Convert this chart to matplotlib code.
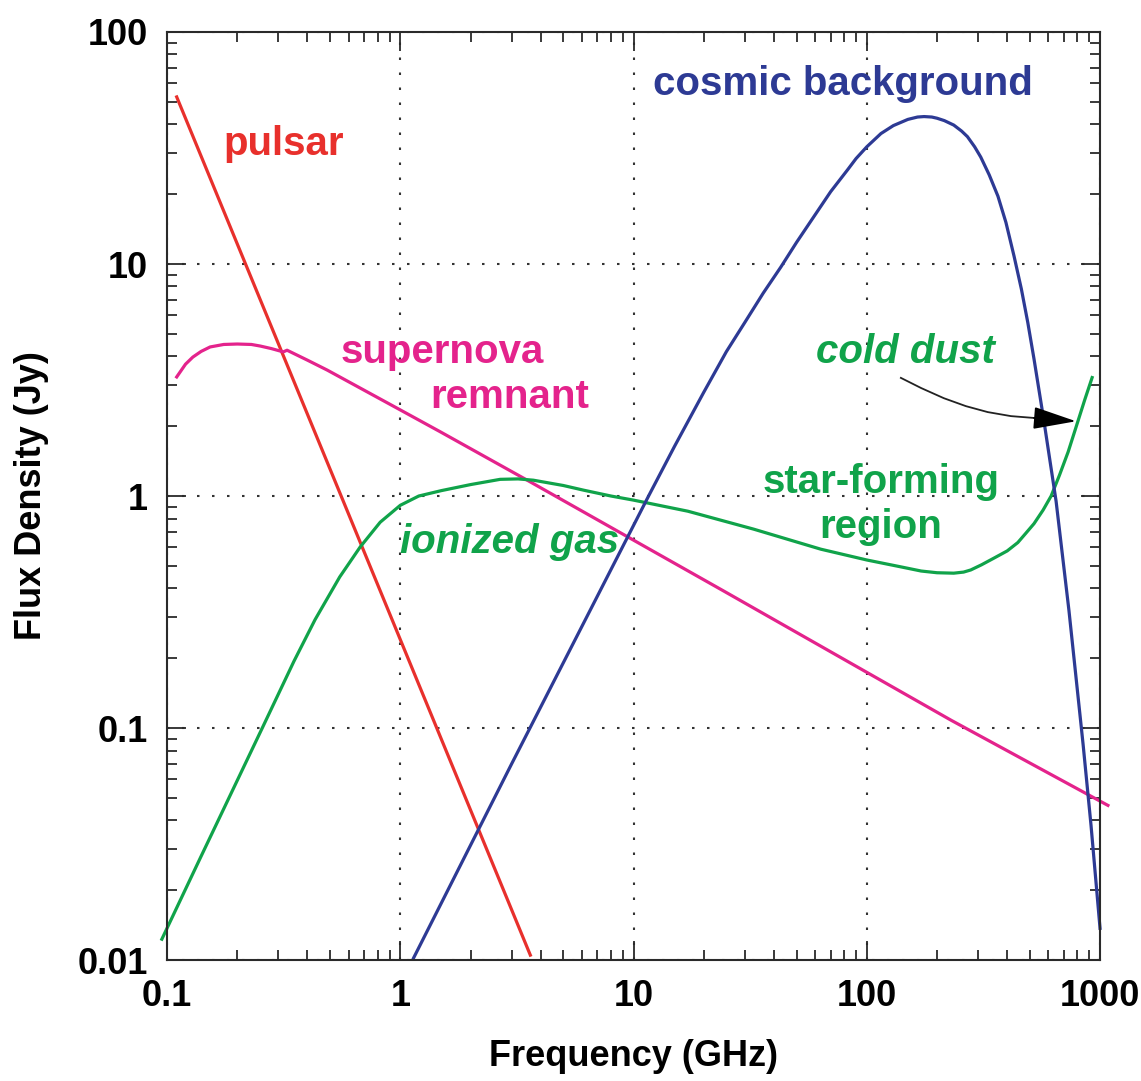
#!/usr/bin/env python
# -*- coding: utf-8 -*-

"""
電波源のスペクトル比較図
各天体の周波数 (GHz) と フラックス密度 (Jy) を両対数で描画し、out.png に保存します。
"""

import matplotlib
matplotlib.use('Agg')
import matplotlib.pyplot as plt
from matplotlib.ticker import LogLocator, NullFormatter

# ----- データ -----
# パルサー
pulsar_freq = [0.110, 3.61]
pulsar_flux = [52.5, 0.0105]

# 超新星残骸
snr_freq = [0.110, 0.12, 0.129, 0.14, 0.153, 0.175, 0.20, 0.23, 0.251, 0.28,
            0.315, 0.327, 0.40, 0.486, 1.0, 1.486, 3.61, 24.3, 230, 1081]
snr_flux = [3.26, 3.70, 3.97, 4.20, 4.39, 4.50, 4.52, 4.50, 4.43, 4.32,
            4.18, 4.25, 3.85, 3.49, 2.35, 1.89, 1.15, 0.39, 0.108, 0.0464]

# 星形成領域 (電離ガス + 低温ダスト)
sfr_freq = [0.095, 0.139, 0.256, 0.35, 0.431, 0.55, 0.673, 0.82, 1.0, 1.2,
            1.5, 2.0, 2.68, 3.2, 3.72, 5.0, 6.1, 8.0, 10, 17.1,
            32.7, 63.5, 100, 140, 171, 200, 236, 260, 279, 310,
            351, 400, 444, 480, 521, 570, 617, 670, 730, 789,
            860, 925]
sfr_flux = [0.0123, 0.0276, 0.10, 0.194, 0.293, 0.448, 0.603, 0.771, 0.912, 1.0,
            1.055, 1.12, 1.18, 1.185, 1.17, 1.11, 1.06, 1.0, 0.96, 0.86,
            0.72, 0.59, 0.53, 0.495, 0.475, 0.467, 0.465, 0.47, 0.48, 0.505,
            0.54, 0.58, 0.63, 0.69, 0.76, 0.87, 1.0, 1.23, 1.55, 1.98,
            2.6, 3.24]

# 宇宙背景放射
cmb_freq = [1.14, 3.0, 11.6, 15, 20, 25, 30, 36, 42.8, 50,
            59.3, 70, 82.8, 90, 100, 115, 130, 150, 165, 176,
            190, 200, 215, 236, 255, 270, 290, 308, 335, 365,
            395, 428, 460, 490, 521, 575, 648, 736, 846, 915,
            1000]
cmb_flux = [0.0102, 0.070, 1.0, 1.64, 2.8, 4.19, 5.6, 7.5, 9.7, 12.4,
            16.0, 20.5, 25.5, 28.5, 32, 36.5, 39.5, 42, 43, 43.2,
            43, 42.5, 41.5, 39.7, 37.4, 35.4, 32, 28.9, 24.2, 19.6,
            15.1, 10.8, 7.8, 5.6, 3.9, 2.1, 0.95, 0.32, 0.085, 0.038,
            0.0137]

# 「cold dust」の矢印
arrow_freq = [140, 171, 214, 266, 330, 415, 521]
arrow_flux = [3.23, 2.92, 2.64, 2.44, 2.30, 2.21, 2.17]
arrow_tip = (789, 2.1)

# 目盛り
xtick_values = [0.1, 1, 10, 100, 1000]
xtick_labels = ['0.1', '1', '10', '100', '1000']
ytick_values = [0.01, 0.1, 1, 10, 100]
ytick_labels = ['0.01', '0.1', '1', '10', '100']

# 色
RED = '#e8302c'
PINK = '#e4238c'
GREEN = '#10a34a'
NAVY = '#2d3a94'


def main():
    """メイン関数"""
    plt.rcParams['font.family'] = ['Liberation Sans', 'DejaVu Sans']
    plt.rcParams['font.weight'] = 'bold'

    fig = plt.figure(figsize=(11.41, 10.81), dpi=100)
    ax = fig.add_axes([0.1464, 0.1119, 0.8177, 0.8585])
    ax.set_xscale('log')
    ax.set_yscale('log')
    ax.set_xlim(0.1, 1000)
    ax.set_ylim(0.01, 100)

    # 曲線
    lw = 2.3
    ax.plot(pulsar_freq, pulsar_flux, color=RED, lw=lw, clip_on=False)
    ax.plot(snr_freq, snr_flux, color=PINK, lw=lw, clip_on=False)
    ax.plot(sfr_freq, sfr_flux, color=GREEN, lw=lw, clip_on=False)
    ax.plot(cmb_freq, cmb_flux, color=NAVY, lw=lw, clip_on=False)

    # 矢印
    ax.plot(arrow_freq, arrow_flux, color='#222222', lw=1.3)
    ax.annotate('', xy=arrow_tip, xytext=(arrow_freq[-1], arrow_flux[-1]),
                arrowprops=dict(arrowstyle='-|>,head_length=2.7,head_width=0.7',
                                color='black', lw=1.3, shrinkA=0, shrinkB=0))

    # ラベル
    fs = 29
    ax.text(0.174, 29.5, 'pulsar', color=RED, fontsize=fs, ha='left', va='baseline')
    ax.text(0.553, 3.74, 'supernova', color=PINK, fontsize=fs, ha='left', va='baseline')
    ax.text(1.345, 2.39, 'remnant', color=PINK, fontsize=fs, ha='left', va='baseline')
    ax.text(12.06, 53.4, 'cosmic background', color=NAVY, fontsize=fs,
            ha='left', va='baseline')
    ax.text(60.4, 3.74, 'cold dust', color=GREEN, fontsize=fs, style='italic',
            ha='left', va='baseline')
    ax.text(114.8, 1.03, 'star-forming', color=GREEN, fontsize=fs,
            ha='center', va='baseline')
    ax.text(114.8, 0.659, 'region', color=GREEN, fontsize=fs,
            ha='center', va='baseline')
    ax.text(1.0, 0.568, 'ionized gas', color=GREEN, fontsize=fs, style='italic',
            ha='left', va='baseline')

    # 軸と目盛り
    ax.set_xticks(xtick_values, labels=xtick_labels)
    ax.set_yticks(ytick_values, labels=ytick_labels)
    ax.xaxis.set_minor_locator(LogLocator(base=10, subs=range(2, 10)))
    ax.yaxis.set_minor_locator(LogLocator(base=10, subs=range(2, 10)))
    ax.xaxis.set_minor_formatter(NullFormatter())
    ax.yaxis.set_minor_formatter(NullFormatter())
    ax.tick_params(which='both', direction='in', top=True, right=True,
                   color='#2a2a2a', width=1.3)
    ax.tick_params(which='major', length=14, labelsize=26, pad=14)
    ax.tick_params(which='minor', length=7)
    for spine in ax.spines.values():
        spine.set_color('#2a2a2a')
        spine.set_linewidth(1.5)

    ax.grid(True, which='major', color='#333333', lw=1.5, linestyle=(0, (1.2, 6)))

    ax.set_xlabel('Frequency (GHz)', fontsize=26, fontweight='bold', labelpad=18)
    ax.set_ylabel('Flux Density (Jy)', fontsize=26, fontweight='bold', labelpad=20)

    fig.savefig('out.png', dpi=100)


if __name__ == "__main__":
    main()
